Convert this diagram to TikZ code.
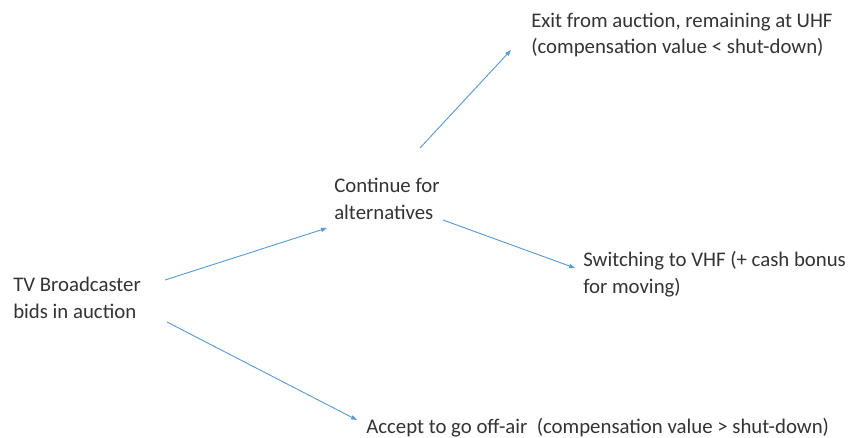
\documentclass[tikz,border=0pt]{standalone}
\usepackage{fontspec}
\setmainfont{Carlito}
\usetikzlibrary{arrows.meta}
\definecolor{linkblue}{HTML}{5B9BD5}
\definecolor{inkgray}{HTML}{333333}

\begin{document}
\begin{tikzpicture}[x=0.75pt,y=-0.75pt,
    choice/.style={anchor=west,align=left,inner sep=0pt,text=inkgray,
      font=\fontsize{15.6}{20}\selectfont},
    link/.style={draw=linkblue,line width=0.7pt,
      -{Triangle[length=4.5pt,width=3.2pt]}}]
  \useasboundingbox (0,0) rectangle (850,437);

  \node[choice] (bid) at (13,298) {TV Broadcaster\\bids in auction};
  \node[choice] (cont) at (334,199) {Continue for\\alternatives};
  \node[choice] (exit) at (531,35) {Exit from auction, remaining at UHF\\(compensation value < shut-down)};
  \node[choice] (vhf) at (583,274) {Switching to VHF (+ cash bonus\\for moving)};
  \node[choice] (off) at (366,428) {Accept to go off-air~ (compensation value > shut-down)};

  \draw[link] ([shift={(152,-18)}]bid.west) -- ([shift={(-7,29)}]cont.west);
  \draw[link] ([shift={(154,24)}]bid.west) -- ([shift={(-9,-8)}]off.west);
  \draw[link] ([shift={(86,-51)}]cont.west) -- ([shift={(-20,15)}]exit.west);
  \draw[link] ([shift={(109,21)}]cont.west) -- ([shift={(-8,-6)}]vhf.west);

\end{tikzpicture}
\end{document}
